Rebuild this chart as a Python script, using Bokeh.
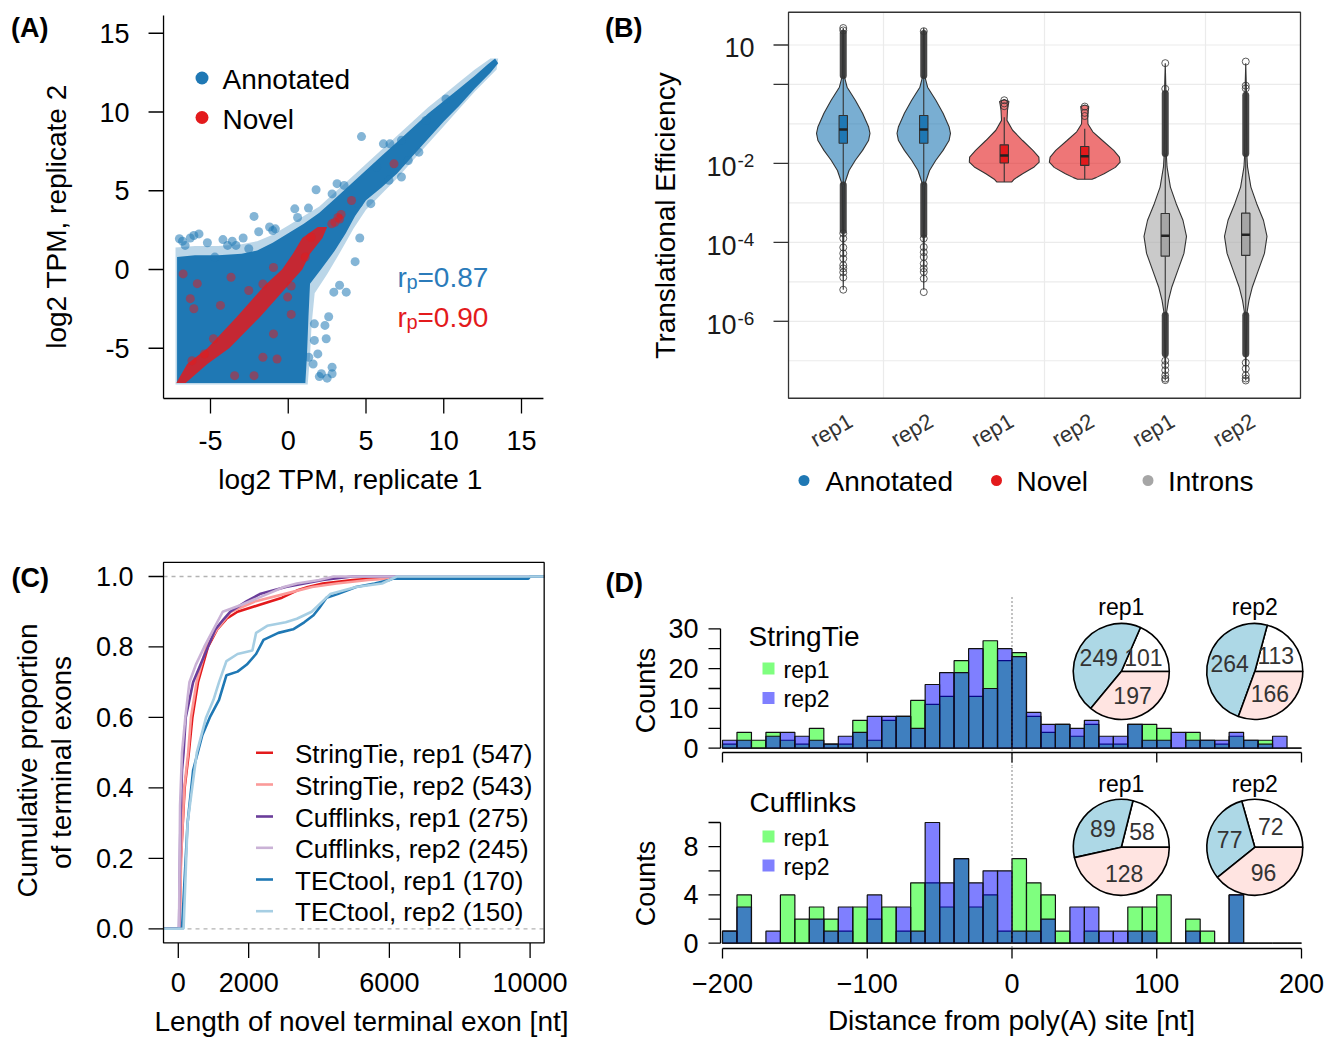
import math
from bokeh.plotting import figure
from bokeh.models import Range1d
from bokeh.layouts import row, column
from bokeh.embed import file_html
from bokeh.resources import INLINE
from bokeh.core.properties import value

FONT = "Liberation Sans"

# ===================== DATA =====================
# ---- Panel A: log2 TPM replicate 1 vs replicate 2 ----
annot_cloud_x = [-7.15, -7.15, -6.0, -4.5, -3.0, -2.0, -1.0, 0.0, 1.0, 2.0, 3.0, 4.0, 5.0, 6.0, 7.0, 8.0, 9.0, 10.0, 11.0, 12.0, 12.8, 13.3,
                 13.5, 13.0, 12.0, 11.0, 10.0, 9.0, 8.0, 7.0, 6.0, 5.0, 4.3, 3.7, 3.0, 2.1, 1.4, 1.3, 1.2, 1.1]
annot_cloud_y = [-7.2, 0.8, 0.9, 0.9, 1.0, 1.2, 1.7, 2.3, 2.9, 3.6, 4.5, 5.4, 6.3, 7.2, 8.1, 9.0, 9.9, 10.7, 11.5, 12.3, 13.0, 13.4,
                 13.1, 12.5, 11.5, 10.4, 9.4, 8.3, 7.2, 6.1, 5.2, 4.4, 3.4, 2.3, 1.2, 0.0, -0.9, -3.0, -5.5, -7.2]
annot_halo_x = [-7.25, -7.25, -6.0, -4.5, -3.0, -2.0, -1.0, 0.0, 1.0, 2.0, 3.0, 4.0, 5.0, 6.0, 7.0, 8.0, 9.0, 10.0, 11.0, 12.0, 13.0, 13.5,
                13.4, 12.0, 11.0, 10.0, 9.0, 8.0, 7.0, 6.0, 5.0, 4.2, 3.4, 2.5, 1.7, 1.5, 1.4, 1.25]
annot_halo_y = [-7.3, 1.4, 1.5, 1.5, 1.6, 1.8, 2.2, 2.8, 3.4, 4.0, 4.9, 5.8, 6.7, 7.6, 8.5, 9.4, 10.3, 11.1, 11.9, 12.7, 13.4, 13.4,
                12.7, 11.3, 10.2, 9.1, 8.0, 6.9, 5.8, 4.8, 3.8, 2.6, 1.2, -0.3, -1.5, -3.5, -5.5, -7.3]
annot_pts_x = [4.71, -2.2, 1.79, 2.82, -0.83, 0.42, -6.07, -5.74, -7.0, -6.63, -3.9, -3.36, -4.72, -2.54, -1.0, 2.93, 3.73, 1.68, 2.36,
               1.68, 2.44, 1.9, 2.13, 2.82, 2.82, 1.32, 6.12, 7.28, 7.28, 6.48, 3.14, 4.51, 5.31, 8.86, 8.4, 7.72, 6.54, 10.14, 3.59,
               5.67, -6.8, -6.3, -5.2, -4.2, -3.6, -2.9, -1.9, -1.2, 0.6, 1.3, 2.6, 3.3, 4.3, 4.6, 2.0, 2.5, 1.6]
annot_pts_y = [8.44, 3.37, 5.06, 4.8, 2.58, 3.85, 2.16, 2.26, 1.95, 1.53, 1.53, 1.53, 0.79, 1.32, 2.47, -1.44, -1.44, -3.45, -3.55,
               -4.5, -4.4, -5.36, -6.62, -6.62, -6.2, -5.57, 7.98, 8.2, 5.87, 5.66, 5.45, 4.18, 4.18, 9.46, 7.45, 6.92, 7.98, 10.83, 5.34,
               6.5, 1.8, 2.0, 1.7, 1.9, 1.8, 2.0, 2.4, 2.7, 3.3, 3.9, -3.0, -1.0, 0.5, 2.0, -6.8, -6.9, -6.0]
novel_band_x = [-7.2, -6.5, -5.2, -3.3, -1.5, -0.4, 0.3, 0.9, 1.9, 2.5, 2.2, 1.4, 0.9, 0.0, -1.8, -3.8, -5.2, -6.6]
novel_band_y = [-7.2, -6.0, -5.0, -3.0, -1.0, 0.0, 1.0, 2.0, 2.7, 2.7, 2.0, 1.0, 0.0, -1.0, -3.0, -5.0, -6.0, -7.2]
novel_pts_x = [-6.76, -5.85, -6.3, -6.07, -4.36, -3.68, -1.63, -0.95, 0.19, 0.19, 1.1, -0.95, -0.72, -1.63, -3.45, -2.2, -5.39,
               -6.19, -4.81, 4.07, 6.8, 1.46, -2.54, -0.04, 3.2, 3.4, 3.3, 3.0, 2.8]
novel_pts_y = [-0.28, -0.9, -1.85, -2.49, -2.28, -0.49, -0.92, 0.13, -1.05, -2.85, 0.79, -4.09, -5.68, -5.57, -6.74, -6.74, -5.36,
               -5.79, -4.4, 4.38, 6.71, 2.05, -1.33, -1.75, 3.3, 3.5, 3.2, 3.0, 2.9]
a_ticks = [-5, 0, 5, 10, 15]
a_tick_labels = ["-5", "0", "5", "10", "15"]
r_annot = "0.87"
r_novel = "0.90"

# ---- Panel B: translational efficiency (log10 values) ----
b_groups = ["Annotated", "Novel", "Introns"]
b_rep_labels = ["rep1", "rep2", "rep1", "rep2", "rep1", "rep2"]
b_pos = [0.75, 1.25, 1.75, 2.25, 2.75, 3.25]
b_tick_exp = [1, 0, -2, -4, -6]
annot_lv = [1.43, 1.30, 0.80, 0.23, -0.07, -0.40, -0.73, -1.07, -1.24, -1.42, -1.67, -1.92, -2.18, -2.47, -2.60, -3.50, -5.20]
annot_hw = [0.0, 0.003, 0.004, 0.005, 0.024, 0.075, 0.120, 0.157, 0.166, 0.157, 0.120, 0.075, 0.036, 0.012, 0.006, 0.004, 0.0]
novel1_lv = [-0.38, -0.43, -0.52, -0.66, -0.91, -1.16, -1.42, -1.67, -1.84, -1.97, -2.09, -2.26, -2.40, -2.47, -2.47]
novel1_hw = [0.0, 0.029, 0.025, 0.020, 0.017, 0.052, 0.114, 0.178, 0.215, 0.217, 0.186, 0.114, 0.062, 0.047, 0.0]
novel2_lv = [-0.52, -0.56, -0.66, -0.80, -1.00, -1.20, -1.42, -1.67, -1.84, -1.97, -2.10, -2.26, -2.36, -2.40, -2.40]
novel2_hw = [0.0, 0.025, 0.022, 0.018, 0.020, 0.050, 0.110, 0.180, 0.215, 0.220, 0.190, 0.120, 0.070, 0.045, 0.0]
intron_lv = [0.54, -0.11, -1.00, -1.80, -2.09, -2.60, -3.02, -3.44, -3.85, -4.28, -4.71, -5.13, -5.47, -5.80, -6.50, -7.50]
intron_hw = [0.0, 0.004, 0.005, 0.007, 0.011, 0.032, 0.068, 0.110, 0.132, 0.116, 0.078, 0.041, 0.020, 0.007, 0.004, 0.0]
box_q1 = [-1.49, -1.49, -1.99, -2.05, -4.35, -4.33]
box_med = [-1.14, -1.14, -1.80, -1.82, -3.83, -3.81]
box_q3 = [-0.785, -0.785, -1.53, -1.57, -3.27, -3.26]
whisk_lo = [-2.55, -2.55, -2.47, -2.40, -5.85, -5.85]
whisk_hi = [0.23, 0.23, -0.83, -1.12, -1.75, -1.75]
dense_idx = [0, 0, 1, 1, 4, 4, 5, 5]
dense_lo = [0.23, -3.70, 0.23, -3.80, -1.75, -6.82, -1.75, -6.82]
dense_hi = [1.30, -2.55, 1.29, -2.55, -0.23, -5.85, -0.27, -5.85]
out_idx = [0, 0, 0, 0, 0, 0, 0, 0, 0, 0, 0, 0,
           1, 1, 1, 1, 1, 1, 1, 1, 1, 1,
           2, 2, 2, 3, 3, 3,
           4, 4, 4, 4, 4, 4, 4, 4,
           5, 5, 5, 5, 5, 5, 5, 5]
out_val = [1.43, 1.37, -3.77, -3.9, -4.13, -4.28, -4.41, -4.58, -4.66, -4.76, -4.89, -5.2,
           1.35, -3.9, -4.12, -4.25, -4.37, -4.54, -4.66, -4.75, -4.92, -5.26,
           -0.40, -0.48, -0.55, -0.56, -0.72, -0.80,
           0.54, -0.11, -7.0, -7.11, -7.24, -7.37, -7.45, -7.49,
           0.58, -0.03, -0.10, -7.05, -7.2, -7.37, -7.45, -7.5]

# ---- Panel C: ECDF of novel terminal exon length ----
st1_x = [-420, 30, 74, 180, 300, 400, 560, 842, 1105, 1369, 1684, 2316, 2948, 3369, 3685, 4106, 4948, 6317, 10400]
st1_y = [0, 0, 0.2, 0.4, 0.5, 0.6, 0.7, 0.8, 0.85, 0.88, 0.9, 0.92, 0.94, 0.96, 0.97, 0.98, 0.99, 1.0, 1.0]
st2_x = [-420, 40, 80, 170, 280, 360, 520, 800, 1100, 1500, 2200, 3000, 3800, 4500, 5400, 7000, 10400]
st2_y = [0, 0, 0.2, 0.4, 0.5, 0.6, 0.7, 0.8, 0.85, 0.9, 0.93, 0.95, 0.97, 0.98, 0.99, 1.0, 1.0]
cf1_x = [-420, 20, 60, 105, 150, 211, 421, 632, 842, 1053, 1300, 1474, 1948, 2316, 3053, 3580, 4106, 4948, 10400]
cf1_y = [0, 0, 0.3, 0.45, 0.5, 0.6, 0.7, 0.75, 0.8, 0.85, 0.88, 0.9, 0.93, 0.95, 0.97, 0.98, 0.99, 1.0, 1.0]
cf2_x = [-420, 20, 50, 105, 200, 316, 500, 737, 1000, 1263, 1800, 2527, 3000, 3369, 4000, 4422, 10400]
cf2_y = [0, 0, 0.35, 0.5, 0.6, 0.7, 0.75, 0.8, 0.85, 0.9, 0.92, 0.95, 0.97, 0.98, 0.99, 1.0, 1.0]
tt1_x = [-420, 105, 158, 263, 421, 684, 895, 1158, 1369, 1684, 1948, 2211, 2422, 2843, 3264, 3580, 3843, 4001, 4212, 4527,
         5054, 5580, 6001, 6106, 9950, 10000, 10400]
tt1_y = [0, 0, 0.1, 0.3, 0.45, 0.55, 0.6, 0.65, 0.72, 0.73, 0.75, 0.78, 0.82, 0.84, 0.85, 0.87, 0.89, 0.91, 0.94, 0.95,
         0.97, 0.98, 0.99, 0.994, 0.994, 1.0, 1.0]
tt2_x = [-420, 150, 263, 526, 790, 1000, 1158, 1369, 1684, 2106, 2211, 2527, 3053, 3369, 3790, 4106, 4317, 5054, 5791, 6212, 10400]
tt2_y = [0, 0, 0.3, 0.5, 0.6, 0.65, 0.7, 0.76, 0.78, 0.79, 0.84, 0.86, 0.87, 0.88, 0.9, 0.93, 0.95, 0.97, 0.98, 1.0, 1.0]
c_names = ["StringTie, rep1 (547)", "StringTie, rep2 (543)", "Cufflinks, rep1 (275)",
           "Cufflinks, rep2 (245)", "TECtool, rep1 (170)", "TECtool, rep2 (150)"]
c_xticks = [0, 2000, 4000, 6000, 8000, 10000]
c_xtick_labels = ["0", "2000", "", "6000", "", "10000"]
c_yticks = [0.0, 0.2, 0.4, 0.6, 0.8, 1.0]
c_ytick_labels = ["0.0", "0.2", "0.4", "0.6", "0.8", "1.0"]

# ---- Panel D: distance from poly(A) site histograms ----
bin_left = list(range(-200, 200, 10))
st_rep1 = [1, 4, 2, 4, 2, 1, 5, 1, 1, 7, 2, 7, 8, 12, 11, 13, 22, 13, 27, 22,
           24, 8, 4, 6, 3, 6, 1, 1, 6, 6, 5, 0, 4, 2, 1, 3, 2, 2, 0, 0]
st_rep2 = [2, 2, 0, 3, 4, 3, 2, 1, 3, 4, 8, 8, 8, 5, 16, 19, 19, 25, 15, 25,
           23, 9, 6, 6, 5, 7, 3, 3, 6, 2, 2, 4, 2, 2, 2, 4, 2, 1, 3, 0]
cf_rep1 = [1, 4, 0, 0, 4, 2, 3, 2, 1, 3, 2, 3, 1, 5, 5, 3, 7, 3, 4, 1,
           7, 5, 4, 1, 0, 1, 0, 0, 3, 3, 4, 0, 2, 1, 0, 4, 0, 0, 0, 0]
cf_rep2 = [1, 3, 0, 1, 0, 0, 2, 1, 3, 0, 4, 0, 3, 1, 10, 5, 7, 5, 6, 6,
           1, 1, 2, 0, 3, 3, 1, 1, 1, 1, 0, 0, 1, 0, 0, 4, 0, 0, 0, 0]
d_xticks = [-200, -100, 0, 100, 200]
d_xtick_labels = ["\u2212200", "\u2212100", "0", "100", "200"]
st_yticks = [0, 5, 10, 15, 20, 25, 30]
st_ytick_labels = ["0", "", "10", "", "20", "", "30"]
cf_yticks = [0, 2, 4, 6, 8, 10]
cf_ytick_labels = ["0", "", "4", "", "8", ""]
pie_st_rep1 = [101, 249, 197]
pie_st_rep2 = [113, 264, 166]
pie_cf_rep1 = [58, 89, 128]
pie_cf_rep2 = [72, 77, 96]


# ===================== HELPERS =====================
class Map:
    """Pixel <-> data mapping of one figure whose frame fills its whole canvas."""
    def __init__(self, ox, oy, W, H, x0, xs, y0, ys, ylog=False):
        self.ox, self.oy, self.W, self.H = ox, oy, W, H
        self.x0, self.xs, self.y0, self.ys, self.ylog = x0, xs, y0, ys, ylog

    def dx(self, X):
        return (X - self.x0) / self.xs

    def dy(self, Y):
        v = (self.y0 - Y) / self.ys
        return 10 ** v if self.ylog else v

    def fig(self):
        p = figure(width=self.W, height=self.H,
                   x_range=Range1d(self.dx(self.ox), self.dx(self.ox + self.W)),
                   y_range=Range1d(self.dy(self.oy + self.H), self.dy(self.oy)),
                   y_axis_type="log" if self.ylog else "linear",
                   x_axis_location=None, y_axis_location=None,
                   output_backend="svg", toolbar_location=None, min_border=0)
        p.grid.visible = False
        p.outline_line_color = None
        p.background_fill_color = "white"
        p.border_fill_color = "white"
        return p


def txt(p, m, X, Y, s, size, color="#000000", align="left", baseline="middle", angle=0.0, bold=False, font=FONT):
    p.text(x=[m.dx(X)], y=[m.dy(Y)], text=[s], text_font=value(font), text_font_size=f"{size}px",
           text_color=color, text_align=align, text_baseline=baseline, angle=angle,
           text_font_style="bold" if bold else "normal")


def ticks_text(p, xs, ys, labels, size, align, x_off=0, y_off=0, color="#000000"):
    keep = [(x, y, l) for x, y, l in zip(xs, ys, labels) if l != ""]
    p.text(x=[k[0] for k in keep], y=[k[1] for k in keep], text=[k[2] for k in keep],
           x_offset=x_off, y_offset=y_off, text_font=value(FONT), text_font_size=f"{size}px",
           text_color=color, text_align=align, text_baseline="middle")


AX = dict(line_color="black", line_width=1.3)

# ===================== PANEL A =====================
mA = Map(0, 0, 590, 548, x0=287.75, xs=15.55, y0=269.0, ys=15.75)
pA = mA.fig()
A_xlim = (-8.02, 16.41)
A_ylim = (-8.19, 16.13)
BLUE = "#1f78b4"
RED = "#e31a1c"
pA.patch(annot_halo_x, annot_halo_y, fill_color=BLUE, fill_alpha=0.3, line_color=None)
pA.patch(annot_cloud_x, annot_cloud_y, fill_color=BLUE, fill_alpha=1.0, line_color=None)
pA.scatter(annot_pts_x, annot_pts_y, size=9, fill_color=BLUE, fill_alpha=0.55, line_color=None)
pA.patch(novel_band_x, novel_band_y, fill_color=RED, fill_alpha=0.85, line_color=None)
pA.scatter(novel_pts_x, novel_pts_y, size=9, fill_color=RED, fill_alpha=0.5, line_color=None)
# axes (L-shaped box as in base R)
pA.segment(x0=[A_xlim[0], A_xlim[0]], y0=[A_ylim[0], A_ylim[0]], x1=[A_xlim[1], A_xlim[0]], y1=[A_ylim[0], A_ylim[1]], **AX)
pA.segment(x0=a_ticks, x1=a_ticks, y0=[A_ylim[0]] * 5, y1=[A_ylim[0] - 15 / 15.75] * 5, **AX)
pA.segment(x0=[A_xlim[0]] * 5, x1=[A_xlim[0] - 15 / 15.55] * 5, y0=a_ticks, y1=a_ticks, **AX)
ticks_text(pA, a_ticks, [A_ylim[0]] * 5, a_tick_labels, 27, "center", y_off=42)
ticks_text(pA, [A_xlim[0]] * 5, a_ticks, a_tick_labels, 27, "right", x_off=-34)
# legend
pA.scatter([mA.dx(201.5)], [mA.dy(77.5)], size=13, fill_color=BLUE, line_color=None)
pA.scatter([mA.dx(201.5)], [mA.dy(117)], size=13, fill_color=RED, line_color=None)
txt(pA, mA, 222, 79, "Annotated", 28)
txt(pA, mA, 222, 119, "Novel", 28)
for rtxt, col, Yb in ((r_annot, "#2b7bba", 276.7), (r_novel, RED, 316.7)):
    txt(pA, mA, 397, Yb, "r", 28, color=col, baseline="alphabetic")
    txt(pA, mA, 406, Yb + 5, "p", 20, color=col, baseline="alphabetic")
    txt(pA, mA, 417, Yb, "=" + rtxt, 28, color=col, baseline="alphabetic")
txt(pA, mA, 10.6, 27, "(A)", 27, bold=True)
txt(pA, mA, 56, 216, "log2 TPM, replicate 2", 28, align="center", angle=math.pi / 2)
txt(pA, mA, 350, 479, "log2 TPM, replicate 1", 28, align="center")

# ===================== PANEL B =====================
mB = Map(590, 0, 750, 548, x0=722.0, xs=161.0, y0=83.97, ys=39.47, ylog=True)
pB = mB.fig()
B_xlim = (0.41, 3.59)
B_ylim = (10 ** -7.95, 10 ** 1.83)
GRID = dict(line_color="#ebebeb", line_width=1.2)
grid_y = [10.0 ** k for k in range(-7, 2)]
pB.segment(x0=[B_xlim[0]] * len(grid_y), x1=[B_xlim[1]] * len(grid_y), y0=grid_y, y1=grid_y, **GRID)
pB.segment(x0=[1, 2, 3], x1=[1, 2, 3], y0=[B_ylim[0]] * 3, y1=[B_ylim[1]] * 3, **GRID)

vfill = ["#1f78b4", "#1f78b4", "#e31a1c", "#e31a1c", "#a6a6a6", "#a6a6a6"]
profiles = [(annot_lv, annot_hw), (annot_lv, annot_hw), (novel1_lv, novel1_hw), (novel2_lv, novel2_hw),
            (intron_lv, intron_hw), (intron_lv, intron_hw)]
BOXW = 0.026
for i, (lv, hw) in enumerate(profiles):
    c = b_pos[i]
    xs = [c + w for w in hw] + [c - w for w in reversed(hw)]
    ys = [10 ** v for v in lv] + [10 ** v for v in reversed(lv)]
    pB.patch(xs, ys, fill_color=vfill[i], fill_alpha=0.6, line_color="#333333", line_width=1.1)
    pB.segment(x0=[c, c], y0=[10 ** box_q3[i], 10 ** box_q1[i]], x1=[c, c], y1=[10 ** whisk_hi[i], 10 ** whisk_lo[i]],
               line_color="#333333", line_width=1.1)
    pB.quad(left=[c - BOXW], right=[c + BOXW], bottom=[10 ** box_q1[i]], top=[10 ** box_q3[i]],
            fill_color=vfill[i], line_color="#333333", line_width=1.1)
    pB.segment(x0=[c - BOXW], x1=[c + BOXW], y0=[10 ** box_med[i]], y1=[10 ** box_med[i]],
               line_color="#222222", line_width=2.5)
for k in range(len(dense_idx)):
    c = b_pos[dense_idx[k]]
    pB.segment(x0=[c], x1=[c], y0=[10 ** dense_lo[k]], y1=[10 ** dense_hi[k]], line_color="#333333",
               line_width=7, line_alpha=0.9, line_cap="round")
pB.scatter([b_pos[i] for i in out_idx], [10 ** v for v in out_val], marker="circle", size=7,
           fill_color=None, line_color="#333333", line_width=1, line_alpha=0.8)
# panel border
pB.quad(left=[B_xlim[0]], right=[B_xlim[1]], bottom=[B_ylim[0]], top=[B_ylim[1]], fill_color=None,
        line_color="#333333", line_width=1.3)
# y axis ticks and labels (10^k)
tick_v = [10.0 ** k for k in b_tick_exp]
pB.segment(x0=[B_xlim[0]] * 5, x1=[B_xlim[0] - 15 / 161.0] * 5, y0=tick_v, y1=tick_v, line_color="#333333", line_width=1.3)
for k, v in zip(b_tick_exp, tick_v):
    if k == 1:
        ticks_text(pB, [B_xlim[0]], [v], ["10"], 27, "right", x_off=-34, y_off=2, color="#1a1a1a")
    elif k < 0:
        ticks_text(pB, [B_xlim[0]], [v], ["10"], 27, "right", x_off=-52, y_off=3, color="#1a1a1a")
        ticks_text(pB, [B_xlim[0]], [v], [str(k)], 19, "left", x_off=-51, y_off=-3, color="#1a1a1a")
# rotated rep labels
pB.text(x=b_pos, y=[B_ylim[0]] * 6, text=b_rep_labels, x_offset=1, y_offset=10, angle=math.pi / 6,
        text_font=value(FONT), text_font_size="22px", text_color="#333333", text_align="right", text_baseline="top")
# legend
for Xd, Xt, col, name in ((803.5, 825, "#1f78b4", b_groups[0]), (996, 1016, "#e31a1c", b_groups[1]),
                          (1147.5, 1167.5, "#a6a6a6", b_groups[2])):
    pB.scatter([mB.dx(Xd)], [mB.dy(480)], size=11, fill_color=col, line_color=None)
    txt(pB, mB, Xt, 481, name, 28)
txt(pB, mB, 665, 215, "Translational Efficiency", 28, align="center", angle=math.pi / 2)
txt(pB, mB, 604.6, 27, "(B)", 27, bold=True)

# ===================== PANEL C =====================
mC = Map(0, 548, 590, 489, x0=177.8, xs=0.03518, y0=928.3, ys=352.3)
pC = mC.fig()
C_xlim = (-420, 10400)
C_ylim = (-0.04, 1.04)
pC.segment(x0=[C_xlim[0], C_xlim[0]], x1=[C_xlim[1], C_xlim[1]], y0=[0.0, 1.0], y1=[0.0, 1.0],
           line_color="#b3b3b3", line_dash="4 4", line_width=1.3)
c_cols = ["#E31A1C", "#FB9A99", "#6A3D9A", "#CAB2D6", "#1F78B4", "#A6CEE3"]
c_data = [(st1_x, st1_y), (st2_x, st2_y), (cf1_x, cf1_y), (cf2_x, cf2_y), (tt1_x, tt1_y), (tt2_x, tt2_y)]
for (xs, ys), col in zip(c_data, c_cols):
    pC.line(xs, ys, line_color=col, line_width=2.6)
pC.quad(left=[C_xlim[0]], right=[C_xlim[1]], bottom=[C_ylim[0]], top=[C_ylim[1]], fill_color=None, **AX)
pC.segment(x0=c_xticks, x1=c_xticks, y0=[C_ylim[0]] * 6, y1=[C_ylim[0] - 15 / 352.3] * 6, **AX)
pC.segment(x0=[C_xlim[0]] * 6, x1=[C_xlim[0] - 15 / 0.03518] * 6, y0=c_yticks, y1=c_yticks, **AX)
ticks_text(pC, c_xticks, [C_ylim[0]] * 6, c_xtick_labels, 27, "center", y_off=40)
ticks_text(pC, [C_xlim[0]] * 6, c_yticks, c_ytick_labels, 27, "right", x_off=-30)
leg_Y = [752.3, 784, 816, 847.3, 879, 910.7]
for Y, col, name in zip(leg_Y, c_cols, c_names):
    pC.segment(x0=[mC.dx(255.5)], x1=[mC.dx(272.5)], y0=[mC.dy(Y)], y1=[mC.dy(Y)], line_color=col, line_width=2.6)
    txt(pC, mC, 294.5, Y + 1, name, 26)
txt(pC, mC, 11, 577.5, "(C)", 27, bold=True)
txt(pC, mC, 27, 760, "Cumulative proportion", 28, align="center", angle=math.pi / 2)
txt(pC, mC, 61, 762, "of terminal exons", 28, align="center", angle=math.pi / 2)
txt(pC, mC, 361, 1021, "Length of novel terminal exon [nt]", 28, align="center")

# ===================== PANEL D =====================
PIE_COLS = ["#ffffff", "#add8e6", "#ffe4e1"]
PIE_R = 48


def draw_hist(p, r1, r2):
    rights = [b + 10 for b in bin_left]
    p.quad(left=bin_left, right=rights, bottom=0, top=r1, fill_color="#00ff00", fill_alpha=0.5,
           line_color="#111111", line_width=1.2)
    p.quad(left=bin_left, right=rights, bottom=0, top=r2, fill_color="#0000ff", fill_alpha=0.5,
           line_color="#111111", line_width=1.2)


def draw_pie(p, cx, cy, vals):
    tot = float(sum(vals))
    a0 = 0.0
    for v, col in zip(vals, PIE_COLS):
        a1 = a0 + 2 * math.pi * v / tot
        p.wedge(x=cx, y=cy, radius=PIE_R, radius_units="screen", start_angle=a0, end_angle=a1,
                fill_color=col, line_color="black", line_width=1.6)
        a0 = a1
    a0 = 0.0
    for v in vals:
        a1 = a0 + 2 * math.pi * v / tot
        mid = (a0 + a1) / 2
        p.text(x=[cx], y=[cy], text=[str(v)], x_offset=0.55 * PIE_R * math.cos(mid),
               y_offset=-0.55 * PIE_R * math.sin(mid), text_align="center", text_baseline="middle",
               text_font=value(FONT), text_font_size="23px", text_color="#333333")
        a0 = a1


def d_axes(p, m, yticks, ylabels, ymax, x_axis_Y, with_xlabels):
    xa_y = m.dy(x_axis_Y)
    ya_x = m.dx(720)
    p.segment(x0=[-200], x1=[200], y0=[xa_y], y1=[xa_y], **AX)
    p.segment(x0=d_xticks, x1=d_xticks, y0=[xa_y] * 5, y1=[m.dy(x_axis_Y + 10)] * 5, **AX)
    p.segment(x0=[ya_x], x1=[ya_x], y0=[0], y1=[ymax], **AX)
    n = len(yticks)
    p.segment(x0=[ya_x] * n, x1=[m.dx(708)] * n, y0=yticks, y1=yticks, **AX)
    ticks_text(p, [ya_x] * n, yticks, ylabels, 27, "right", x_off=-22)
    if with_xlabels:
        ticks_text(p, d_xticks, [xa_y] * 5, d_xtick_labels, 27, "center", y_off=983 - x_axis_Y)


# --- top (StringTie) ---
mDt = Map(590, 548, 750, 218, x0=1011.5, xs=1.4475, y0=747.7, ys=3.98)
pDt = mDt.fig()
draw_hist(pDt, st_rep1, st_rep2)
d_axes(pDt, mDt, st_yticks, st_ytick_labels, 30, 752, False)
pDt.line([0, 0], [mDt.dy(597), mDt.dy(766)], line_color="#444444", line_dash="1 3", line_width=1.3)
draw_pie(pDt, mDt.dx(1120.8), mDt.dy(671), pie_st_rep1)
draw_pie(pDt, mDt.dx(1254.3), mDt.dy(671), pie_st_rep2)
pDt.scatter([mDt.dx(768)], [mDt.dy(668)], marker="square", size=12, fill_color="#00ff00", fill_alpha=0.5, line_color=None)
pDt.scatter([mDt.dx(768)], [mDt.dy(697.5)], marker="square", size=12, fill_color="#0000ff", fill_alpha=0.5, line_color=None)
txt(pDt, mDt, 783, 669, "rep1", 23)
txt(pDt, mDt, 783, 698.5, "rep2", 23)
txt(pDt, mDt, 748, 636, "StringTie", 28)
txt(pDt, mDt, 1120.8, 606, "rep1", 23, align="center")
txt(pDt, mDt, 1254.3, 606, "rep2", 23, align="center")
txt(pDt, mDt, 645, 690, "Counts", 27, align="center", angle=math.pi / 2)
txt(pDt, mDt, 605, 582, "(D)", 27, bold=True)

# --- bottom (Cufflinks) ---
mDb = Map(590, 766, 750, 271, x0=1011.5, xs=1.4475, y0=942.7, ys=12.07)
pDb = mDb.fig()
draw_hist(pDb, cf_rep1, cf_rep2)
d_axes(pDb, mDb, cf_yticks, cf_ytick_labels, 10, 948, True)
pDb.line([0, 0], [mDb.dy(766), mDb.dy(948)], line_color="#444444", line_dash="1 3", line_width=1.3)
draw_pie(pDb, mDb.dx(1120.8), mDb.dy(846.8), pie_cf_rep1)
draw_pie(pDb, mDb.dx(1254.3), mDb.dy(846.8), pie_cf_rep2)
pDb.scatter([mDb.dx(768)], [mDb.dy(836)], marker="square", size=12, fill_color="#00ff00", fill_alpha=0.5, line_color=None)
pDb.scatter([mDb.dx(768)], [mDb.dy(865)], marker="square", size=12, fill_color="#0000ff", fill_alpha=0.5, line_color=None)
txt(pDb, mDb, 783, 837, "rep1", 23)
txt(pDb, mDb, 783, 866, "rep2", 23)
txt(pDb, mDb, 749, 802, "Cufflinks", 28)
txt(pDb, mDb, 1120.8, 783, "rep1", 23, align="center")
txt(pDb, mDb, 1254.3, 783, "rep2", 23, align="center")
txt(pDb, mDb, 645, 883, "Counts", 27, align="center", angle=math.pi / 2)
txt(pDb, mDb, 1011, 1020, "Distance from poly(A) site [nt]", 28, align="center")

layout = column(row(pA, pB), row(pC, column(pDt, pDb)))
open("out.html", "w").write(file_html(layout, INLINE))
